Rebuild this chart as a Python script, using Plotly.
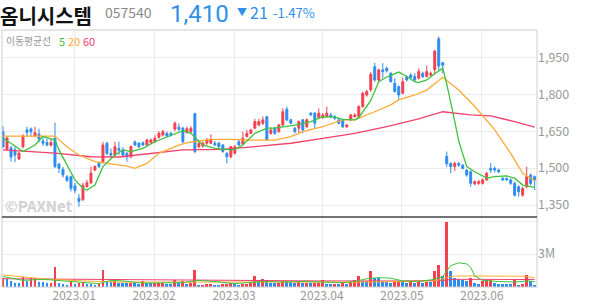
import plotly.graph_objects as go

# ---------------- data ----------------
opens = [1648,1578,1582,1574,1537,1587,1655,1659,1630,1638,1610,1604,1593,1621,1517,1495,1465,1465,1428,1378,
         1372,1425,1440,1492,1520,1526,1601,1560,1553,1580,1574,1560,1546,1607,1601,1603,1594,1603,1607,1625,
         1634,1641,1641,1658,1666,1662,1644,1648,1721,1587,1590,1601,1601,1601,1601,1594,1560,1546,1560,1607,
         1598,1628,1641,1662,1675,1682,1709,1641,1662,1648,1675,1739,1696,1662,1662,1696,1668,1723,1723,1706,
         1706,1709,1716,1709,1696,1696,1668,1696,1709,1709,1750,1797,1818,1912,1858,1899,1906,1885,1845,1831,
         1804,1872,1878,1872,1865,1885,1872,1878,1900,2025,1928,1547,1519,1506,1519,1512,1492,1485,1436,1438,
         1438,1452,1499,1499,1492,1458,1458,1452,1438,1424,1390,1424,1472,1465]
highs = [1670,1628,1590,1587,1567,1638,1668,1665,1668,1660,1622,1620,1620,1685,1520,1505,1472,1470,1440,1395,
         1440,1452,1506,1512,1525,1607,1607,1580,1607,1607,1585,1565,1592,1612,1606,1608,1620,1620,1634,1650,
         1655,1648,1648,1690,1682,1668,1668,1670,1725,1605,1607,1622,1638,1610,1607,1598,1565,1590,1594,1614,
         1648,1655,1660,1700,1700,1710,1712,1665,1668,1680,1743,1750,1700,1668,1694,1700,1702,1728,1728,1743,
         1723,1750,1725,1716,1700,1700,1680,1720,1723,1755,1810,1818,1890,1928,1905,1926,1912,1890,1865,1835,
         1868,1876,1885,1885,1905,1892,1916,1892,1980,2035,1932,1567,1523,1526,1524,1516,1495,1490,1450,1452,
         1458,1485,1520,1506,1498,1465,1462,1458,1445,1430,1424,1506,1478,1470]
lows = [1583,1570,1526,1524,1533,1580,1628,1628,1625,1605,1590,1588,1588,1500,1480,1462,1445,1405,1398,1343,
        1366,1420,1435,1488,1500,1519,1553,1545,1550,1553,1545,1526,1540,1590,1582,1590,1590,1598,1601,1620,
        1628,1625,1628,1650,1650,1600,1640,1640,1560,1580,1583,1594,1597,1590,1580,1563,1519,1540,1555,1590,
        1594,1624,1638,1658,1670,1675,1610,1636,1636,1644,1670,1690,1678,1641,1641,1641,1662,1712,1660,1700,
        1700,1705,1702,1696,1678,1662,1662,1690,1705,1705,1745,1790,1810,1850,1850,1865,1888,1848,1806,1777,
        1800,1852,1862,1853,1860,1866,1868,1872,1880,1895,1885,1506,1479,1488,1505,1495,1465,1424,1430,1432,
        1433,1448,1480,1482,1480,1448,1447,1432,1384,1384,1384,1418,1430,1411]
closes = [1586,1622,1545,1553,1561,1630,1645,1648,1644,1618,1601,1594,1604,1506,1499,1472,1449,1418,1410,1365,
          1430,1440,1480,1506,1506,1594,1560,1553,1587,1573,1553,1546,1587,1594,1587,1594,1614,1614,1621,1641,
          1648,1630,1634,1682,1658,1607,1660,1662,1567,1601,1601,1614,1614,1594,1587,1567,1546,1587,1587,1594,
          1621,1641,1655,1689,1689,1696,1614,1655,1641,1675,1729,1696,1682,1648,1689,1655,1696,1716,1682,1723,
          1716,1723,1709,1702,1682,1668,1675,1716,1716,1750,1804,1811,1881,1858,1899,1892,1895,1851,1811,1797,
          1851,1858,1868,1858,1892,1872,1892,1885,1975,1915,1918,1518,1506,1519,1512,1499,1472,1438,1445,1445,
          1452,1479,1492,1492,1485,1452,1452,1438,1390,1404,1417,1465,1438,1452]
volumes_m = [0.82,0.76,0.58,0.40,0.38,0.88,0.58,0.82,0.84,0.42,0.41,0.36,0.37,1.79,0.33,0.24,0.18,0.42,0.30,0.36,
             0.39,0.25,0.23,0.22,0.27,1.58,0.50,0.45,0.50,0.40,0.35,0.34,0.40,0.33,0.30,0.50,0.35,0.32,0.36,0.38,
             0.40,0.30,0.28,0.67,0.40,0.55,0.30,0.33,1.58,0.20,0.22,0.25,0.30,0.22,0.20,0.25,0.30,0.35,0.28,0.20,
             0.25,0.30,0.33,0.97,0.67,0.70,0.60,0.40,0.35,0.40,0.55,0.50,0.45,0.40,0.42,0.35,0.40,0.33,0.35,0.40,
             0.67,0.30,0.28,0.30,0.25,0.32,0.30,0.45,0.61,1.03,0.55,0.52,1.42,0.85,0.80,0.50,0.45,0.40,0.45,0.55,
             0.45,0.40,0.42,0.38,0.45,0.40,0.45,0.42,1.42,2.03,1.03,5.88,1.48,0.82,0.73,0.61,0.55,0.82,0.36,0.30,
             0.52,0.60,0.61,0.40,0.30,0.28,0.27,0.25,0.61,0.22,0.25,1.09,0.52,0.21]

# moving-average lines (candle index, value)
ma5_idx = [0,2,5,8,10,13,14,16,18,20,21,23,25,28,30,32,35,38,43,45,47,50,53,57,58,60,63,66,68,71,73,77,80,83,85,88,89,92,94,96,98,99,101,103,104,106,108,110,111,112,113,114,116,118,121,123,126,128,130,133]
ma5_val = [1621,1601,1567,1594,1628,1614,1574,1513,1452,1418,1411,1431,1506,1553,1574,1567,1580,1607,1641,1652,1641,1594,1580,1574,1576,1594,1641,1662,1662,1668,1675,1689,1709,1707,1698,1696,1705,1775,1851,1870,1882,1890,1872,1851,1847,1858,1883,1906,1842,1770,1690,1610,1506,1485,1459,1465,1468,1459,1431,1422]
ma20_idx = [0,13,16,19,23,27,31,33,36,39,43,46,49,52,57,62,68,72,75,80,85,88,93,97,99,103,106,110,114,118,123,127,130,133]
ma20_val = [1630,1630,1587,1553,1526,1517,1508,1499,1519,1560,1587,1603,1611,1617,1617,1614,1614,1628,1648,1668,1696,1696,1729,1757,1777,1797,1817,1869,1817,1750,1655,1560,1479,1449]
ma60_idx = [0,13,22,29,45,55,63,72,80,88,96,104,110,117,122,128,133]
ma60_val = [1574,1561,1546,1545,1574,1576,1587,1601,1621,1641,1668,1700,1729,1716,1712,1689,1666]

vma5_idx = [0,5,10,13,16,20,24,27,30,35,40,45,49,53,58,63,67,70,75,80,85,88,91,94,97,100,104,108,110,112,114,116,117,118,120,124,128,131,133]
vma5_val = [0.95,0.60,0.70,0.60,0.55,0.40,0.30,0.60,0.55,0.35,0.35,0.40,0.60,0.50,0.30,0.45,0.50,0.45,0.50,0.45,0.40,0.50,0.75,0.85,0.80,0.55,0.50,0.70,0.95,1.95,2.20,2.10,1.80,1.00,0.60,0.50,0.45,0.55,0.50]
vma20_idx = [0,5,10,15,20,30,40,50,60,70,80,90,100,108,111,113,120,130,133]
vma20_val = [1.10,0.90,0.75,0.65,0.55,0.45,0.45,0.45,0.40,0.45,0.45,0.45,0.50,0.55,0.85,1.00,1.00,0.98,0.85]
vma60_idx = [0,20,40,60,80,100,110,113,120,133]
vma60_val = [0.75,0.70,0.65,0.55,0.55,0.55,0.60,0.70,0.70,0.68]

month_pos = [17.8, 37.8, 57.8, 79.8, 99.8, 119.8]
month_labels = ["2023.01", "2023.02", "2023.03", "2023.04", "2023.05", "2023.06"]
price_ticks = [1350, 1500, 1650, 1800, 1950]

# ---------------- styling ----------------
RED = "#f2404d"
BLUE = "#2d8cef"
GREEN = "#3ec23e"
ORANGE = "#ffaa33"
PINK = "#f2406a"
GRID = "#ececec"
FONT = "Noto Sans CJK KR"

idx = list(range(len(closes)))
volumes = [v * 1e6 for v in volumes_m]
vol_colors = [RED] + [RED if volumes[i] >= volumes[i - 1] else BLUE for i in range(1, len(volumes))]

fig = go.Figure()
fig.add_trace(go.Candlestick(
    x=idx, open=opens, high=highs, low=lows, close=closes,
    increasing=dict(line=dict(color=RED, width=1), fillcolor=RED),
    decreasing=dict(line=dict(color=BLUE, width=1), fillcolor=BLUE),
    whiskerwidth=0, xaxis="x", yaxis="y", showlegend=False, hoverinfo="skip"))

for xs, ys, c in [(ma60_idx, ma60_val, PINK), (ma20_idx, ma20_val, ORANGE), (ma5_idx, ma5_val, GREEN)]:
    fig.add_trace(go.Scatter(x=xs, y=ys, mode="lines", line=dict(color=c, width=1.3),
                             xaxis="x", yaxis="y", showlegend=False, hoverinfo="skip"))

fig.add_trace(go.Bar(x=idx, y=volumes, marker=dict(color=vol_colors, line=dict(width=0)),
                     width=0.72, xaxis="x", yaxis="y2", showlegend=False, hoverinfo="skip"))
for xs, ys, c in [(vma60_idx, vma60_val, PINK), (vma20_idx, vma20_val, ORANGE), (vma5_idx, vma5_val, GREEN)]:
    fig.add_trace(go.Scatter(x=xs, y=[v * 1e6 for v in ys], mode="lines", line=dict(color=c, width=1),
                             xaxis="x", yaxis="y2", showlegend=False, hoverinfo="skip"))

# plot area in pixels: x 2..537.3, y 30..287.3
W, H = 594, 304
L, R, T, B = 2, 56.7, 30, 16.7
PW, PH = W - L - R, H - T - B
split = (287.3 - 217.3) / PH

def px(x):
    return (x - L) / PW

def py(y):
    return (H - B - y) / PH

fig.update_layout(
    width=W, height=H, margin=dict(l=L, r=R, t=T, b=B, pad=0),
    paper_bgcolor="white", plot_bgcolor="white",
    font=dict(family=FONT, color="#999999", size=12),
    bargap=0,
    xaxis=dict(range=[-0.25, 133.58], anchor="y2", tickmode="array", tickvals=month_pos,
               ticktext=month_labels, showgrid=True, gridcolor=GRID, gridwidth=1,
               zeroline=False, showline=False, ticks="", rangeslider=dict(visible=False),
               tickfont=dict(size=12, color="#999999", family=FONT)),
    yaxis=dict(domain=[split, 1], range=[1301, 2061], side="right", tickmode="array",
               tickvals=price_ticks, tickformat=",", showgrid=True, gridcolor=GRID,
               zeroline=False, ticks="", tickfont=dict(size=12.5, color="#999999", family=FONT)),
    yaxis2=dict(domain=[0, split], range=[0, 6.36e6], side="right", tickmode="array",
                tickvals=[3e6, 6e6], ticktext=["3M", ""], showgrid=True, gridcolor=GRID,
                zeroline=False, ticks="", tickfont=dict(size=12.5, color="#999999", family=FONT)),
    shapes=[
        dict(type="rect", xref="paper", yref="paper", x0=0, x1=1, y0=0, y1=1,
             line=dict(color="#cccccc", width=1), layer="above"),
        dict(type="line", xref="paper", yref="paper", x0=0, x1=1, y0=split, y1=split,
             line=dict(color="#444444", width=1.5), layer="above"),
    ],
)

top = py(0)
ann = [
    dict(text="<b>옴니시스템</b>", x=px(-1), y=top, yanchor="top", font=dict(size=20, color="#111111", family=FONT)),
    dict(text="057540", x=px(104), y=py(12), yanchor="middle", font=dict(size=14, color="#8a8a8a", family=FONT)),
    dict(text="1,410", x=px(169), y=py(14), yanchor="middle", font=dict(size=24, color="#2f8fe8", family="Roboto")),
    dict(text="▼", x=px(236), y=py(11), yanchor="middle", font=dict(size=10, color="#2f8fe8", family=FONT)),
    dict(text="21", x=px(249), y=py(12), yanchor="middle", font=dict(size=16, color="#2f8fe8", family=FONT)),
    dict(text="-1.47%", x=px(272), y=py(12), yanchor="middle", font=dict(size=13, color="#2f8fe8", family=FONT)),
    dict(text="이동평균선", x=px(5), y=py(41), yanchor="middle", font=dict(size=9.8, color="#999999", family=FONT)),
    dict(text="5", x=px(58), y=py(41), yanchor="middle", font=dict(size=11, color=GREEN, family=FONT)),
    dict(text="20", x=px(67), y=py(41), yanchor="middle", font=dict(size=11, color=ORANGE, family=FONT)),
    dict(text="60", x=px(82), y=py(41), yanchor="middle", font=dict(size=11, color=PINK, family=FONT)),
    dict(text="<b>©PAXNet</b>", x=px(4), y=py(206), yanchor="middle", font=dict(size=15, color="#d2d2d2", family=FONT)),
]
for a in ann:
    a.update(xref="paper", yref="paper", xanchor="left", showarrow=False, borderpad=0)
fig.update_layout(annotations=ann)

fig.write_html("out.html")
